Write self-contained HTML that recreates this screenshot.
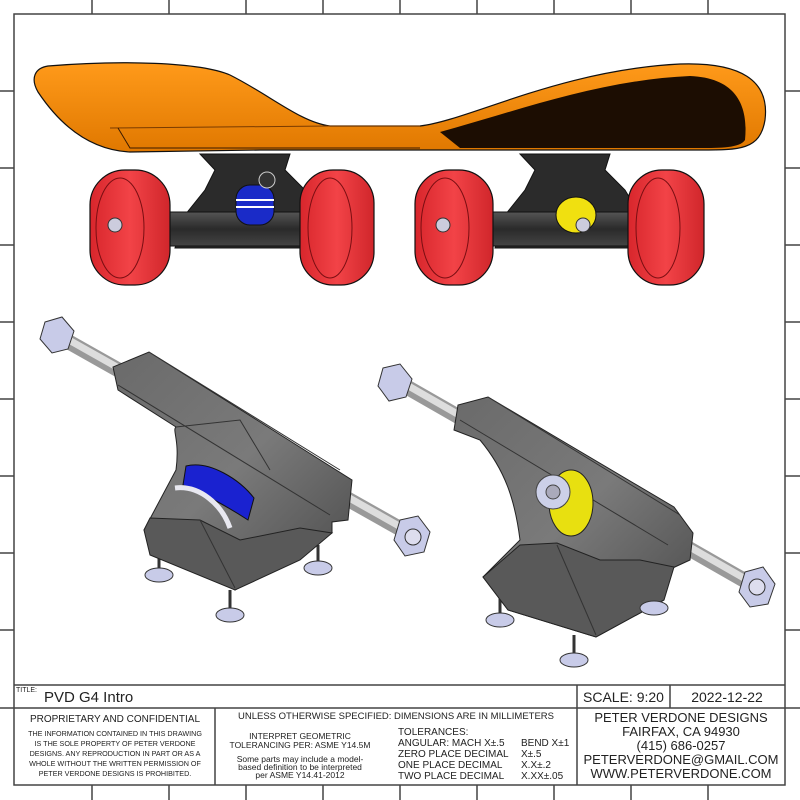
<!DOCTYPE html>
<html><head><meta charset="utf-8"><style>
html,body{margin:0;padding:0;background:#fff}
svg{display:block}
text{font-family:"Liberation Sans",sans-serif;fill:#222}
</style></head><body>
<svg width="800" height="800" viewBox="0 0 800 800" xmlns="http://www.w3.org/2000/svg">
<defs>
<linearGradient id="or" x1="0" y1="0" x2="0" y2="1"><stop offset="0" stop-color="#ff9a1a"/><stop offset="1" stop-color="#e07800"/></linearGradient>
<linearGradient id="wh" x1="0" y1="0" x2="1" y2="0"><stop offset="0" stop-color="#d8262c"/><stop offset=".5" stop-color="#f24347"/><stop offset="1" stop-color="#d0262b"/></linearGradient>
<linearGradient id="gr" x1="0" y1="0" x2="1" y2="1"><stop offset="0" stop-color="#6a6a6a"/><stop offset=".5" stop-color="#7a7a7a"/><stop offset="1" stop-color="#4a4a4a"/></linearGradient>
<linearGradient id="ax" x1="0" y1="0" x2="0" y2="1"><stop offset="0" stop-color="#555"/><stop offset=".5" stop-color="#2a2a2a"/><stop offset="1" stop-color="#444"/></linearGradient>
</defs>
<g stroke="#444" stroke-width="1.5" fill="none">
<rect x="14" y="14" width="771" height="771"/>
<path d="M92 0V14M169 0V14M246 0V14M323 0V14M400 0V14M477 0V14M554 0V14M631 0V14M708 0V14"/>
<path d="M92 785V800M169 785V800M246 785V800M323 785V800M400 785V800M477 785V800M554 785V800M631 785V800M708 785V800"/>
<path d="M0 91H14M0 168H14M0 245H14M0 322H14M0 399H14M0 476H14M0 553H14M0 630H14M0 708H14"/>
<path d="M785 91H800M785 168H800M785 245H800M785 322H800M785 399H800M785 476H800M785 553H800M785 630H800M785 708H800"/>
<path d="M14 685H785M14 708H785M577 685V708M670 685V708M215 708V785M577 708V785"/>
</g>
<!-- deck -->
<path d="M48 66 C120 60 200 62 230 75 C270 95 300 122 330 126 L420 126 C470 120 560 70 680 64 C740 62 770 80 765 120 C760 150 740 150 700 150 L260 150 L130 152 C90 150 60 125 38 92 C30 78 35 68 48 66Z" fill="url(#or)" stroke="#111" stroke-width="1.2"/>
<path d="M440 132 C520 110 600 80 690 76 C740 78 748 110 745 140 C740 148 720 148 700 148 L460 148 Z" fill="#1c0d02"/>
<path d="M110 128 L330 126 L420 126" stroke="#7a3b00" fill="none"/>
<path d="M118 128 L130 148 L420 148" stroke="#3a1a00" fill="none"/>
<!-- top trucks -->
<g fill="#2b2b2b" stroke="#111">
<path d="M200 154 L290 154 L285 170 L305 190 L320 215 L330 248 L175 248 L185 215 L205 190 L215 170Z"/>
<path d="M520 154 L610 154 L605 170 L625 190 L640 215 L650 248 L495 248 L505 215 L525 190 L535 170Z"/>
</g>
<rect x="168" y="212" width="165" height="34" fill="url(#ax)" stroke="#111"/>
<rect x="488" y="212" width="170" height="34" fill="url(#ax)" stroke="#111"/>
<rect x="236" y="185" width="38" height="40" rx="14" fill="#1a2bc8" stroke="#111"/>
<path d="M236 200 H274 M236 207 H274" stroke="#fff" stroke-width="2"/>
<circle cx="267" cy="180" r="8" fill="#333" stroke="#ccc"/>
<ellipse cx="576" cy="215" rx="20" ry="18" fill="#f0e010" stroke="#111"/>
<circle cx="583" cy="225" r="7" fill="#ccd" stroke="#333"/>
<!-- wheels -->
<g stroke="#111" stroke-width="1.2">
<rect x="90" y="170" width="80" height="115" rx="35" fill="url(#wh)"/>
<rect x="300" y="170" width="74" height="115" rx="33" fill="url(#wh)"/>
<rect x="415" y="170" width="78" height="115" rx="34" fill="url(#wh)"/>
<rect x="628" y="170" width="76" height="115" rx="34" fill="url(#wh)"/>
</g>
<g fill="none" stroke="#7a0e12">
<ellipse cx="120" cy="228" rx="24" ry="50"/><ellipse cx="330" cy="228" rx="22" ry="50"/>
<ellipse cx="445" cy="228" rx="24" ry="50"/><ellipse cx="658" cy="228" rx="22" ry="50"/>
</g>
<g fill="#ccd" stroke="#333"><circle cx="115" cy="225" r="7"/><circle cx="443" cy="225" r="7"/></g>
<!-- lower left truck -->
<path d="M60 337 L415 537" stroke="#999" stroke-width="15" stroke-linecap="round"/>
<path d="M60 335 L415 535" stroke="#ddd" stroke-width="7"/>
<polygon points="45,322 62,317 74,331 68,349 52,353 40,339" fill="#c8cbe8" stroke="#333"/>
<!-- screws -->
<g stroke="#333" stroke-width="3"><path d="M159 550V572M318 545V566M230 590V612"/></g>
<path d="M144 530 L176 470 C180 440 172 430 176 427 L118 390 L113 367 L149 352 L352 480 L348 520 L332 522 L332 533 L235 590 Z" fill="url(#gr)" stroke="#222"/>
<path d="M149 352 L340 470 M118 385 L330 515 M176 427 L240 420 L270 470" stroke="#333" fill="none"/>
<path d="M186 466 C210 460 240 480 254 498 L248 520 C225 505 200 492 183 485Z" fill="#1a22d0" stroke="#111"/>
<path d="M175 488 C200 485 222 505 230 528" stroke="#e8e8f0" stroke-width="5" fill="none"/>
<path d="M144 530 L150 518 L200 520 L240 540 L300 528 L332 533 L300 560 L235 590 L150 555Z" fill="#595959" stroke="#222"/>
<path d="M200 520 L235 588" stroke="#333"/>
<polygon points="400,520 418,516 430,532 424,552 405,556 394,540" fill="#c8cbe8" stroke="#333"/>
<circle cx="413" cy="537" r="8" fill="#dde" stroke="#333"/>
<g fill="#c8cbe8" stroke="#333"><ellipse cx="159" cy="575" rx="14" ry="7"/><ellipse cx="318" cy="568" rx="14" ry="7"/><ellipse cx="230" cy="615" rx="14" ry="7"/></g>
<!-- lower right truck -->
<path d="M398 382 L756 587" stroke="#999" stroke-width="15" stroke-linecap="round"/>
<path d="M398 380 L756 585" stroke="#ddd" stroke-width="7"/>
<polygon points="383,368 400,364 412,379 406,397 389,401 378,386" fill="#c8cbe8" stroke="#333"/>
<g stroke="#333" stroke-width="3"><path d="M500 595V618M654 585V606M574 635V657"/></g>
<path d="M483 577 L520 540 C515 500 505 470 480 440 L454 430 L458 405 L488 397 L674 507 L693 533 L690 560 L664 572 L664 600 L596 637 L508 610Z" fill="url(#gr)" stroke="#222"/>
<path d="M488 397 L680 515 M460 420 L668 545" stroke="#333" fill="none"/>
<ellipse cx="571" cy="503" rx="22" ry="33" fill="#e8e010" stroke="#222"/>
<circle cx="553" cy="492" r="17" fill="#ccd0e8" stroke="#444"/>
<circle cx="553" cy="492" r="7" fill="#aab" stroke="#444"/>
<path d="M483 577 L520 545 L557 543 L600 560 L640 560 L674 567 L664 600 L596 637 L508 610Z" fill="#595959" stroke="#222"/>
<path d="M557 545 L596 635" stroke="#333"/>
<polygon points="745,572 763,567 775,584 768,604 750,607 739,592" fill="#c8cbe8" stroke="#333"/>
<circle cx="757" cy="587" r="8" fill="#dde" stroke="#333"/>
<g fill="#c8cbe8" stroke="#333"><ellipse cx="500" cy="620" rx="14" ry="7"/><ellipse cx="654" cy="608" rx="14" ry="7"/><ellipse cx="574" cy="660" rx="14" ry="7"/></g>
<!-- title block text -->
<text x="16" y="692" font-size="7">TITLE:</text>
<text x="44" y="702" font-size="15">PVD G4 Intro</text>
<text x="583" y="702" font-size="14">SCALE: 9:20</text>
<text x="727" y="702" font-size="14" text-anchor="middle">2022-12-22</text>
<text x="115" y="722" font-size="10" text-anchor="middle">PROPRIETARY AND CONFIDENTIAL</text>
<g font-size="7.2" text-anchor="middle">
<text x="115" y="736">THE INFORMATION CONTAINED IN THIS DRAWING</text>
<text x="115" y="746">IS THE SOLE PROPERTY OF PETER VERDONE</text>
<text x="115" y="756">DESIGNS.  ANY  REPRODUCTION IN PART OR AS A</text>
<text x="115" y="766">WHOLE WITHOUT THE WRITTEN PERMISSION OF</text>
<text x="115" y="776">PETER VERDONE DESIGNS IS PROHIBITED.</text>
</g>
<text x="396" y="719" font-size="9.5" text-anchor="middle">UNLESS OTHERWISE SPECIFIED: DIMENSIONS ARE IN MILLIMETERS</text>
<g font-size="8.5" text-anchor="middle">
<text x="300" y="739">INTERPRET GEOMETRIC</text>
<text x="300" y="748">TOLERANCING PER: ASME Y14.5M</text>
<text x="300" y="762">Some parts may include a model-</text>
<text x="300" y="770">based definition to be interpreted</text>
<text x="300" y="778">per ASME Y14.41-2012</text>
</g>
<g font-size="10">
<text x="398" y="735">TOLERANCES:</text>
<text x="398" y="746">ANGULAR: MACH X±.5</text><text x="521" y="746">BEND X±1</text>
<text x="398" y="757">ZERO PLACE DECIMAL</text><text x="521" y="757">X±.5</text>
<text x="398" y="768">ONE PLACE DECIMAL</text><text x="521" y="768">X.X±.2</text>
<text x="398" y="779">TWO PLACE DECIMAL</text><text x="521" y="779">X.XX±.05</text>
</g>
<g font-size="13" text-anchor="middle">
<text x="681" y="722">PETER VERDONE DESIGNS</text>
<text x="681" y="736">FAIRFAX, CA 94930</text>
<text x="681" y="750">(415) 686-0257</text>
<text x="681" y="764">PETERVERDONE@GMAIL.COM</text>
<text x="681" y="778">WWW.PETERVERDONE.COM</text>
</g>
</svg>
</body></html>
